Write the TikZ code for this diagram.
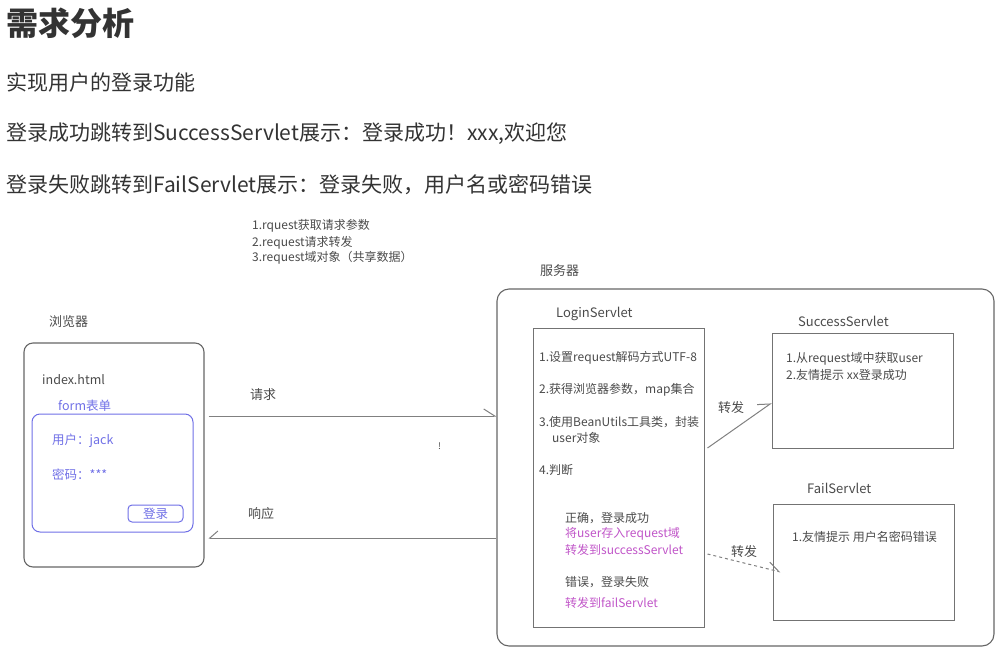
\documentclass[tikz,border=0pt]{standalone}
\usepackage{fontspec}
\setmainfont{Noto Sans CJK SC}
\usetikzlibrary{arrows.meta,positioning}
\definecolor{ink}{HTML}{333333}
\definecolor{pen}{HTML}{4A4A4A}
\definecolor{rule}{HTML}{808080}
\definecolor{formblue}{HTML}{6F6FE6}
\definecolor{pinkish}{HTML}{C055C8}

\begin{document}
\begin{tikzpicture}[x=1pt,y=-1pt,
  frame/.style={draw=black!60,line width=1.1pt,rounded corners=9pt},
  panel/.style={draw=black!55,line width=1pt},
  head/.style={anchor=west,inner sep=0pt,text=ink,font=\fontsize{21}{25}\selectfont},
  txt/.style={anchor=west,inner sep=0pt,text=pen,font=\fontsize{12}{14}\selectfont},
  lbl/.style={txt,font=\fontsize{13}{15}\selectfont},
  blue/.style={txt,text=formblue,font=\fontsize{12.5}{14}\selectfont},
  pink/.style={txt,text=pinkish},
  conn/.style={draw=rule,line width=1pt},
  barb/.style={-{Straight Barb[harpoon,length=11pt,width=14pt]}},
  barbswap/.style={-{Straight Barb[harpoon,swap,length=8pt,width=14pt]}}]
\useasboundingbox (0,0) rectangle (999,654);
\node[head,font=\bfseries\fontsize{32}{36}\selectfont] (title) at (6,23) {需求分析};
\node[head] (goal) at (6,83) {实现用户的登录功能};
\node[head] (okline) at (6,134) {登录成功跳转到SuccessServlet展示：登录成功！xxx,欢迎您};
\node[head] (failline) at (6,185) {登录失败跳转到FailServlet展示：登录失败，用户名或密码错误};
\node[txt] (note1) at (252,226) {1.rquest获取请求参数};
\node[txt] (note2) at (252,243) {2.request请求转发};
\node[txt] (note3) at (252,258) {3.request域对象（共享数据）};
\node[lbl] (serverlbl) at (540,271) {服务器};
\node[lbl] (browserlbl) at (49,322) {浏览器};
\node[frame,minimum width=180pt,minimum height=224pt] (browser) at (114,455) {};
\node[txt,font=\fontsize{12.5}{14}\selectfont] (index) at (42,380) {index.html};
\node[blue] (formlbl) at (58,406) {form表单};
\node[draw=formblue,line width=1pt,rounded corners=8pt,minimum width=161pt,minimum height=118pt] (form) at (112.5,473) {};
\node[blue] (user) at (52,441) {用户：jack};
\node[blue] (pwd) at (52,475) {密码：***};
\node[draw=formblue,line width=1pt,rounded corners=4pt,minimum width=55pt,minimum height=17pt,inner sep=0pt,text=formblue,font=\fontsize{12.5}{14}\selectfont] (loginbtn) at (155.5,513.5) {登录};
\node[frame,rounded corners=12pt,minimum width=497pt,minimum height=357pt] (server) at (745.5,467.5) {};
\node[lbl] (loginlbl) at (556,314) {LoginServlet};
\node[panel,minimum width=171pt,minimum height=299pt] (login) at (618.5,477.5) {};
\node[txt] (step1) at (539,358) {1.设置request解码方式UTF-8};
\node[txt] (step2) at (539,390) {2.获得浏览器参数，map集合};
\node[txt] (step3) at (539,422) {3.使用BeanUtils工具类，封装};
\node[txt] (step3b) at (552,438) {user对象};
\node[txt] (step4) at (539,470) {4.判断};
\node[txt] (yes) at (565,518) {正确，登录成功};
\node[pink] (yes1) at (565,534) {将user存入request域};
\node[pink] (yes2) at (565,550) {转发到successServlet};
\node[txt] (no) at (565,582) {错误，登录失败};
\node[pink] (no1) at (565,603) {转发到failServlet};
\node[lbl] (successlbl) at (798,321) {SuccessServlet};
\node[panel,minimum width=181pt,minimum height=115pt] (success) at (862.5,390.5) {};
\node[txt] (succ1) at (786,359) {1.从request域中获取user};
\node[txt] (succ2) at (786,375) {2.友情提示 xx登录成功};
\node[lbl] (faillbl) at (807,488) {FailServlet};
\node[panel,minimum width=181pt,minimum height=116pt] (fail) at (863.5,562) {};
\node[txt] (fail1) at (792,537) {1.友情提示 用户名密码错误};
\coordinate (req) at (0,416);
\coordinate (resp) at (0,538);
\draw[conn,barb] ([xshift=4pt]browser.east |- req) -- (server.west |- req);
\draw[conn,barbswap] (server.west |- resp) -- ([xshift=4pt]browser.east |- resp);
\node[lbl] (reqlbl) at (250,395) {请求};
\node[lbl] (resplbl) at (248,514) {响应};
\node[txt,font=\fontsize{9}{10}\selectfont] (bang) at (438,446) {!};
\draw[conn,barb] ([xshift=3pt,yshift=29.5pt]login.east) -- ([yshift=-12.5pt]success.west);
\node[lbl] (fwd1) at (718,408) {转发};
\draw[conn,dashed,barb] ([xshift=3pt,yshift=-76.5pt]login.east) -- ([xshift=8pt,yshift=-10pt]fail.west);
\node[lbl] (fwd2) at (731,552) {转发};
\end{tikzpicture}
\end{document}
